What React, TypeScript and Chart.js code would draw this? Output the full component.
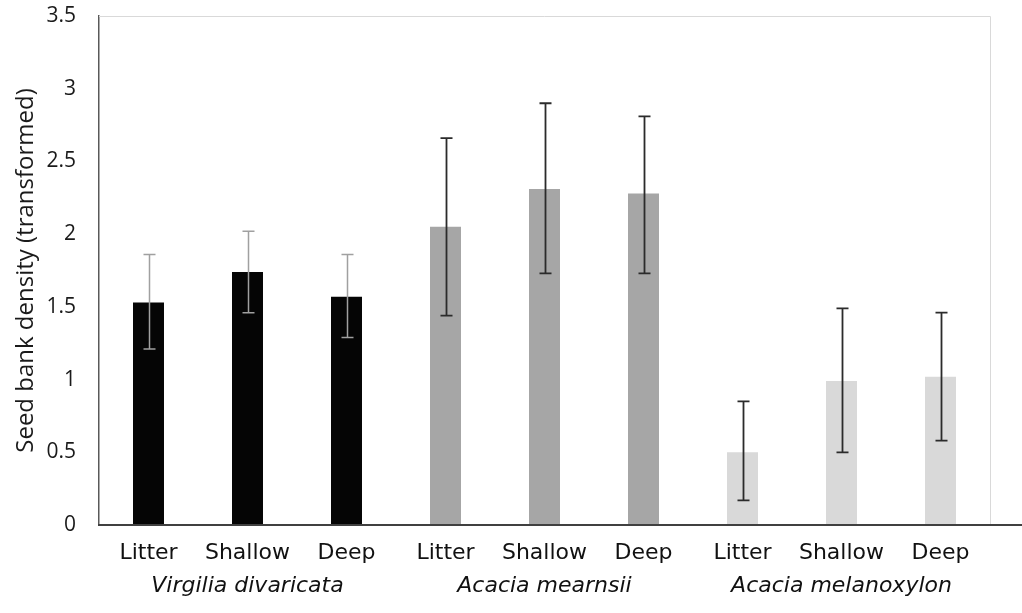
import React, { useEffect, useRef } from "react";
import { Chart, registerables } from "chart.js";

Chart.register(...registerables);

const categories = ["Litter", "Shallow", "Deep", "Litter", "Shallow", "Deep", "Litter", "Shallow", "Deep"];
const groupNames = ["Virgilia divaricata", "Acacia mearnsii", "Acacia melanoxylon"];
const groupOf = [0, 0, 0, 1, 1, 1, 2, 2, 2];
const means = [1.53, 1.74, 1.57, 2.05, 2.31, 2.28, 0.5, 0.99, 1.02];
const upper = [1.86, 2.02, 1.86, 2.66, 2.9, 2.81, 0.85, 1.49, 1.46];
const lower = [1.21, 1.46, 1.29, 1.44, 1.73, 1.73, 0.17, 0.5, 0.58];
const yTicks = [0, 0.5, 1, 1.5, 2, 2.5, 3, 3.5];

const barColors = ["#050505", "#a6a6a6", "#d9d9d9"];
const errColors = ["#a0a0a0", "#2b2b2b", "#2b2b2b"];
const errWidths = [1.5, 1.8, 1.8];

export default function App() {
  const ref = useRef<HTMLCanvasElement | null>(null);

  useEffect(() => {
    document.body.style.margin = "0";
    const canvas = ref.current;
    if (!canvas) return;

    const framePlugin = {
      id: "frame",
      beforeDatasetsDraw(chart: any) {
        const { ctx, chartArea } = chart;
        ctx.save();
        ctx.strokeStyle = "#d9d9d9";
        ctx.lineWidth = 1;
        ctx.beginPath();
        ctx.moveTo(chartArea.left, chartArea.top + 0.5);
        ctx.lineTo(chartArea.right + 0.5, chartArea.top + 0.5);
        ctx.lineTo(chartArea.right + 0.5, chartArea.bottom);
        ctx.stroke();
        ctx.restore();
      },
      afterDatasetsDraw(chart: any) {
        const { ctx, chartArea, scales } = chart;
        const meta = chart.getDatasetMeta(0);
        const ys = scales.y;
        ctx.save();
        meta.data.forEach((bar: any, i: number) => {
          const g = groupOf[i];
          const x = Math.round(bar.x) + 0.5;
          const yHi = ys.getPixelForValue(upper[i]);
          const yLo = ys.getPixelForValue(lower[i]);
          ctx.strokeStyle = errColors[g];
          ctx.lineWidth = errWidths[g];
          ctx.beginPath();
          ctx.moveTo(x, yHi);
          ctx.lineTo(x, yLo);
          ctx.moveTo(x - 6, yHi);
          ctx.lineTo(x + 6, yHi);
          ctx.moveTo(x - 6, yLo);
          ctx.lineTo(x + 6, yLo);
          ctx.stroke();
        });
        // x axis line (extends to right edge)
        ctx.strokeStyle = "#404040";
        ctx.lineWidth = 2;
        ctx.beginPath();
        ctx.moveTo(chartArea.left - 1, chartArea.bottom);
        ctx.lineTo(chart.width, chartArea.bottom);
        ctx.stroke();
        ctx.restore();
      },
      afterDraw(chart: any) {
        const { ctx, scales } = chart;
        const xs = scales.x;
        ctx.save();
        ctx.fillStyle = "#111";
        ctx.font = "italic 22px 'DejaVu Sans'";
        ctx.textAlign = "center";
        ctx.textBaseline = "middle";
        groupNames.forEach((name, g) => {
          const x = xs.getPixelForValue(g * 3 + 1);
          ctx.fillText(name, x, 586);
        });
        ctx.restore();
      },
    };

    const chart = new Chart(canvas, {
      type: "bar",
      data: {
        labels: categories,
        datasets: [
          {
            data: means,
            backgroundColor: means.map((_, i) => barColors[groupOf[i]]),
            borderWidth: 0,
            barPercentage: 0.313,
            categoryPercentage: 1,
          },
        ],
      },
      options: {
        animation: false,
        responsive: false,
        maintainAspectRatio: false,
        layout: { padding: { top: 16, right: 32, left: 0, bottom: 0 } },
        plugins: {
          legend: { display: false },
          tooltip: { enabled: false },
        },
        scales: {
          x: {
            grid: { display: false, drawTicks: false },
            border: { display: false },
            ticks: {
              color: "#111",
              padding: 15,
              font: { family: "'DejaVu Sans'", size: 22 },
              maxRotation: 0,
              autoSkip: false,
            },
            afterFit: (s: any) => {
              s.height = 88;
            },
          },
          y: {
            min: 0,
            max: 3.5,
            afterBuildTicks: (s: any) => {
              s.ticks = yTicks.map((v) => ({ value: v }));
            },
            grid: { display: false, drawTicks: false },
            border: { display: true, color: "#595959", width: 1.5 },
            ticks: {
              color: "#1a1a1a",
              padding: 23,
              font: { family: "'Open Sans'", size: 21 },
              callback: (v: any) => String(v),
            },
            title: {
              display: true,
              text: "Seed bank density (transformed)",
              color: "#1a1a1a",
              font: { family: "'Open Sans'", size: 24 },
              padding: { top: 12, bottom: 0 },
            },
            afterFit: (s: any) => {
              s.width = 99;
              s.paddingTop = 0;
              s.paddingBottom = 0;
            },
          },
        },
      },
      plugins: [framePlugin],
    });

    return () => chart.destroy();
  }, []);

  return (
    <div style={{ width: 1022, height: 613 }}>
      <canvas ref={ref} width={1022} height={613} style={{ display: "block" }} />
    </div>
  );
}
